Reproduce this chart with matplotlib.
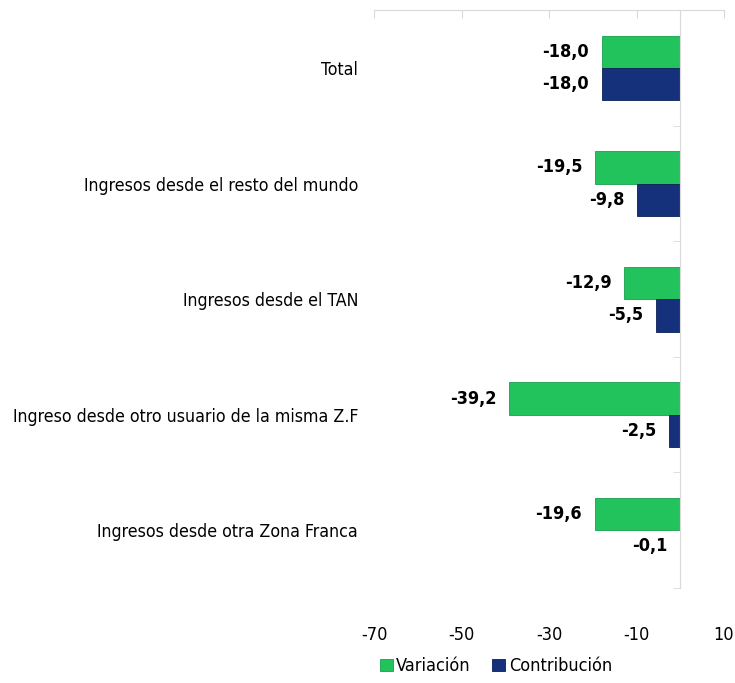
import matplotlib.pyplot as plt
import numpy as np

categorias = ['Total',
              'Ingresos desde el resto del mundo',
              'Ingresos desde el TAN',
              'Ingreso desde otro usuario de la misma Z.F',
              'Ingresos desde otra Zona Franca']
variacion = [-18.0, -19.5, -12.9, -39.2, -19.6]
contribucion = [-18.0, -9.8, -5.5, -2.5, -0.1]
xticks = [-70, -50, -30, -10, 10]

plt.rcParams['font.family'] = ['DejaVu Sans']
plt.rcParams['font.stretch'] = 'condensed'

verde = '#22c25c'
azul = '#16317c'

fig = plt.figure(figsize=(7.35, 6.83), dpi=100)
ax = fig.add_axes([0.509, 0.139, 0.476, 0.846])

y = np.arange(len(categorias))
h = 0.28
ax.barh(y - h/2, variacion, height=h, color=verde, edgecolor='#18a04f', linewidth=0.6, label='Variación')
ax.barh(y + h/2, contribucion, height=h, color=azul, edgecolor='#0c1f55', linewidth=0.6, label='Contribución')

# etiquetas de valores
for i in range(len(categorias)):
    for val, yy in ((variacion[i], y[i] - h/2), (contribucion[i], y[i] + h/2)):
        ax.annotate(f'{val:.1f}'.replace('.', ','), xy=(val, yy), xytext=(-9, 0),
                    textcoords='offset points', ha='right', va='center',
                    fontsize=13, fontweight='bold', color='black')

ax.set_xlim(-70, 10)
ax.set_ylim(len(categorias) - 0.5, -0.5)
ax.set_xticks(xticks)
ax.set_xticklabels([str(t) for t in xticks])
ax.set_yticks(y)
ax.set_yticklabels(categorias)
ax.set_yticks(np.arange(len(categorias) + 1) - 0.5, minor=True)

for s in ['left', 'bottom']:
    ax.spines[s].set_visible(False)
ax.spines['top'].set_color('#d9d9d9')
ax.spines['right'].set_color('#d9d9d9')
ax.spines['right'].set_position(('data', 0))

ax.tick_params(axis='x', which='major', bottom=False, top=True, labelbottom=True, labeltop=False,
               direction='in', length=6, color='#d9d9d9', pad=27, labelsize=13)
ax.tick_params(axis='y', which='major', left=False, right=False, labelsize=12.7, pad=8)
ax.tick_params(axis='y', which='minor', left=False, right=True, direction='in', length=5, color='#d9d9d9')

ax.legend(loc='upper left', bbox_to_anchor=(-0.03, -0.092), ncol=2, frameon=False,
          fontsize=13, handlelength=0.7, handleheight=0.7, handletextpad=0.2, columnspacing=1.2)

plt.savefig('out.png', dpi=100)
